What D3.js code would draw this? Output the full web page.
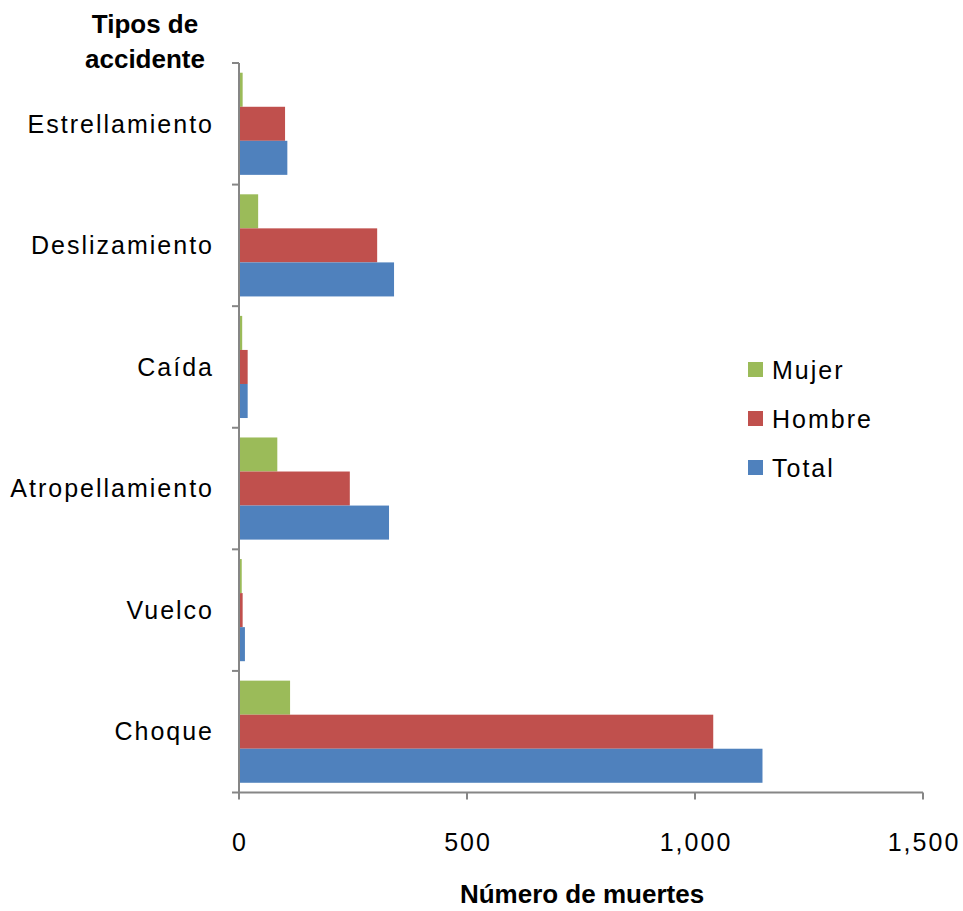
<!DOCTYPE html>
<html>
<head>
<meta charset="utf-8">
<script src="https://cdn.jsdelivr.net/npm/d3@7"></script>
<style>
body { margin: 0; background: #fff; }
text { font-family: "Liberation Sans", Arial, sans-serif; fill: #000; }
.lbl { font-size: 25px; letter-spacing: 2px; }
.ttl { font-weight: bold; font-size: 26px; }
</style>
</head>
<body>
<div id="chart"></div>
<script>
var categories = ["Estrellamiento", "Deslizamiento", "Caída", "Atropellamiento", "Vuelco", "Choque"];
var seriesNames = ["Mujer", "Hombre", "Total"];
var mujer = [8, 42, 7, 84, 6, 112];
var hombre = [101, 303, 19, 243, 8, 1040];
var total = [106, 340, 19, 329, 13, 1148];
var xTicks = [0, 500, 1000, 1500];

var colors = {Mujer: "#9BBB59", Hombre: "#C0504D", Total: "#4F81BD"};
var values = {Mujer: mujer, Hombre: hombre, Total: total};

var svgWidth = 963, svgHeight = 911;
var margin = {top: 63, left: 239, right: 40, bottom: 118};
var width = 923 - margin.left;
var height = 792.5 - margin.top;

var svg = d3.select("#chart").append("svg").attr("width", svgWidth).attr("height", svgHeight);
var g = svg.append("g").attr("transform", `translate(${margin.left}, ${margin.top})`);

var x = d3.scaleLinear().domain([0, 1500]).range([0, width]);
var y = d3.scaleBand().domain(categories).range([0, height]).paddingInner(0.16).paddingOuter(0.08);
var ySub = d3.scaleBand().domain(seriesNames).range([0, y.bandwidth()]);

var rows = categories.map(function(c, i) {
	return {cat: c, vals: seriesNames.map(function(s) { return {name: s, v: values[s][i]}; })};
});

g.selectAll(".grp").data(rows).enter().append("g").attr("class", "grp")
	.attr("transform", d => `translate(0, ${y(d.cat)})`)
	.selectAll("rect").data(d => d.vals).enter().append("rect")
	.attr("x", 0).attr("y", d => ySub(d.name))
	.attr("width", d => x(d.v)).attr("height", ySub.bandwidth())
	.attr("fill", d => colors[d.name]);

// category axis
var step = height / categories.length;
var yAxis = g.append("g");
yAxis.append("line").attr("x1", 0).attr("x2", 0).attr("y1", 0).attr("y2", height).attr("stroke", "#868686").attr("stroke-width", 2);
yAxis.selectAll(".tk").data(d3.range(categories.length + 1)).enter().append("line")
	.attr("x1", -7).attr("x2", 0).attr("y1", d => d * step).attr("y2", d => d * step)
	.attr("stroke", "#868686").attr("stroke-width", 2);
yAxis.selectAll(".cl").data(categories).enter().append("text").attr("class", "lbl")
	.attr("x", -25).attr("y", (d, i) => (i + 0.5) * step).attr("dy", "0.35em")
	.attr("text-anchor", "end").text(d => d);

// value axis
var xAxis = g.append("g").attr("transform", `translate(0, ${height})`);
xAxis.append("line").attr("x1", 0).attr("x2", width).attr("stroke", "#868686").attr("stroke-width", 2);
xAxis.selectAll(".tk").data(xTicks).enter().append("line")
	.attr("x1", d => x(d)).attr("x2", d => x(d)).attr("y1", 0).attr("y2", 7)
	.attr("stroke", "#868686").attr("stroke-width", 2);
xAxis.selectAll(".xl").data(xTicks).enter().append("text").attr("class", "lbl")
	.attr("x", d => x(d) + 1).attr("y", 58).attr("text-anchor", "middle")
	.text(d => d3.format(",")(d));

// titles
svg.append("text").attr("class", "ttl").attr("x", 145).attr("y", 33).attr("text-anchor", "middle").text("Tipos de");
svg.append("text").attr("class", "ttl").attr("x", 145).attr("y", 68).attr("text-anchor", "middle").text("accidente");
svg.append("text").attr("class", "ttl").attr("x", 582).attr("y", 903).attr("text-anchor", "middle").text("Número de muertes");

// legend
var legend = svg.append("g").attr("transform", "translate(748, 362)");
var li = legend.selectAll("g").data(seriesNames).enter().append("g")
	.attr("transform", (d, i) => `translate(0, ${i * 49})`);
li.append("rect").attr("width", 15).attr("height", 15).attr("fill", d => colors[d]);
li.append("text").attr("class", "lbl").attr("x", 24).attr("y", 8).attr("dy", "0.35em").text(d => d);
</script>
</body>
</html>
